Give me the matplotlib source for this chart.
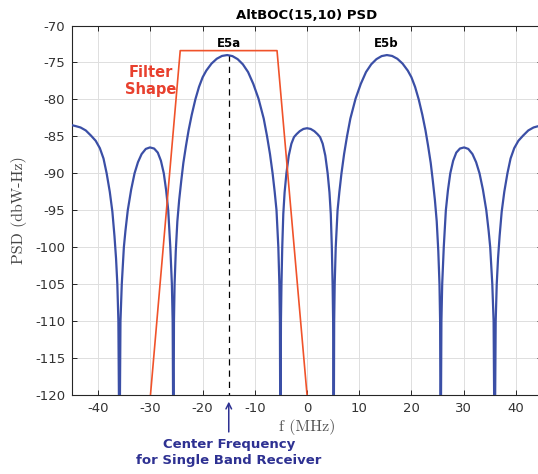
import numpy as np
import matplotlib
matplotlib.use('Agg')
import matplotlib.pyplot as plt

plt.rcParams['axes.unicode_minus'] = False

# PSD curve, f in MHz, PSD in dBW-Hz (nulls go below the axis)
f_neg = [-45.0, -44.4, -43.4, -42.4, -41.4, -40.5, -39.7, -39.0, -38.4, -37.8, -37.3,
         -36.9, -36.6, -36.35, -36.15, -35.95,
         -35.75, -35.5, -35.1, -34.8, -34.35, -33.7, -33.05, -32.4, -31.7, -30.9, -30.1,
         -29.3, -28.6, -28.0, -27.45, -27.0, -26.6, -26.2, -25.9, -25.75, -25.6,
         -25.5, -25.38, -25.15, -24.85, -24.5, -24.1, -23.7, -23.2, -22.7, -22.1, -21.4,
         -20.7, -20.0, -19.3, -18.3, -17.3, -16.3, -15.3, -14.3, -13.3, -12.3, -11.3,
         -10.3, -9.3, -8.3, -7.66, -7.1, -6.6, -6.2, -5.85, -5.5, -5.3, -5.2, -5.1,
         -5.0, -4.9, -4.75, -4.55, -4.3, -3.95, -3.5, -3.0, -2.5, -2.0, -1.4, -0.7]
psd_neg = [-83.5, -83.6, -83.8, -84.2, -84.9, -85.6, -86.6, -88.0, -90.0, -92.5, -95.2,
           -98.5, -101.5, -105.0, -110.0, -130.0,
           -110.0, -105.0, -100.0, -97.8, -95.0, -92.2, -90.0, -88.5, -87.4, -86.7, -86.5,
           -86.65, -87.2, -88.3, -90.0, -92.3, -95.0, -100.0, -105.0, -110.0, -130.0,
           -110.0, -105.0, -100.5, -96.5, -93.6, -91.0, -88.6, -86.3, -84.2, -82.1, -80.0,
           -78.3, -77.0, -76.1, -75.15, -74.5, -74.12, -74.0, -74.14, -74.55, -75.25, -76.3,
           -77.9, -79.9, -82.6, -85.0, -87.4, -90.0, -92.5, -95.0, -100.0, -105.0, -110.0, -130.0,
           -110.0, -105.0, -100.0, -95.5, -92.6, -90.0, -87.6, -86.0, -85.1, -84.7, -84.3, -84.0]
f_pos = [0.0, 0.7, 1.4, 2.0, 2.5, 3.0, 3.5, 3.95, 4.3, 4.55, 4.75, 4.9, 5.0, 5.1,
         5.2, 5.3, 5.5, 5.85, 6.2, 6.6, 7.1, 7.66, 8.3, 9.3, 10.3, 11.3, 12.3, 13.3,
         14.3, 15.3, 16.3, 17.3, 18.3, 19.3, 20.0, 20.7, 21.4, 22.1, 22.7, 23.2, 23.7,
         24.1, 24.5, 24.85, 25.15, 25.38, 25.5, 25.6,
         25.75, 25.9, 26.2, 26.6, 27.0, 27.45, 28.0, 28.6, 29.3, 30.1, 30.9, 31.7, 32.4,
         33.05, 33.7, 34.35, 34.8, 35.1, 35.5, 35.75, 35.95,
         36.15, 36.35, 36.6, 36.9, 37.3, 37.8, 38.4, 39.0, 39.7, 40.5, 41.4, 42.4, 43.4,
         44.4, 45.0]
psd_pos = [-83.9, -84.0, -84.3, -84.7, -85.1, -86.0, -87.6, -90.0, -92.6, -95.5, -100.0, -105.0, -110.0, -130.0,
           -110.0, -105.0, -100.0, -95.0, -92.5, -90.0, -87.4, -85.0, -82.6, -79.9, -77.9, -76.3, -75.25, -74.55,
           -74.14, -74.0, -74.12, -74.5, -75.15, -76.1, -77.0, -78.3, -80.0, -82.1, -84.2, -86.3, -88.6,
           -91.0, -93.6, -96.5, -100.5, -105.0, -110.0, -130.0,
           -110.0, -105.0, -100.0, -95.0, -92.3, -90.0, -88.3, -87.2, -86.65, -86.5, -86.7, -87.4, -88.5,
           -90.0, -92.2, -95.0, -97.8, -100.0, -105.0, -110.0, -130.0,
           -110.0, -105.0, -101.5, -98.5, -95.2, -92.5, -90.0, -88.0, -86.6, -85.6, -84.9, -84.2, -83.8,
           -83.6, -83.5]

# filter shape (trapezoid) corners
filt_f = [-30.0, -24.3, -5.75, 0.0]
filt_psd = [-120.0, -73.4, -73.4, -120.0]

center_f = -15.0
x_ticks = [-40, -30, -20, -10, 0, 10, 20, 30, 40]
y_ticks = [-120, -115, -110, -105, -100, -95, -90, -85, -80, -75, -70]

f_all = np.array(f_neg + f_pos)
psd_all = np.array(psd_neg + psd_pos)

fig = plt.figure(figsize=(5.38, 4.74), dpi=100)
# axes runs slightly past the right edge of the picture (right spine is cut off)
ax = fig.add_axes([0.1342, 0.1667, 0.873, 0.7795])

ax.plot(f_all, psd_all, color='#3b4fa6', lw=1.6, zorder=3)
ax.plot(filt_f, filt_psd, color='#f0522a', lw=1.2, zorder=4)
ax.plot([center_f, center_f], [-74.0, -120.0], color='black', lw=0.9,
        ls=(0, (5, 4)), zorder=2)

ax.set_xlim(-45, 45)
ax.set_ylim(-120, -70)
ax.set_xticks(x_ticks)
ax.set_yticks(y_ticks)
ax.grid(True, color='#dedede', lw=0.7)
ax.set_axisbelow(True)
ax.tick_params(direction='in', length=3.5, width=0.7, colors='#262626',
               labelsize=9.5, top=True, right=True, labelcolor='#333333', pad=5)
for s in ax.spines.values():
    s.set_color('#262626')
    s.set_linewidth(0.8)

ax.set_title('AltBOC(15,10) PSD', fontsize=9.5, fontweight='bold', pad=5)
ax.set_ylabel('PSD (dbW-Hz)', family='cmr10', fontsize=11.5, color='#444444', labelpad=6)
ax.set_xlabel('f (MHz)', family='cmr10', fontsize=11.5, color='#555555', labelpad=3)

ax.text(-15.0, -72.4, 'E5a', ha='center', va='center', fontsize=8.5, fontweight='bold')
ax.text(15.2, -72.4, 'E5b', ha='center', va='center', fontsize=8.5, fontweight='bold')
ax.text(-30.0, -77.5, 'Filter\nShape', ha='center', va='center', fontsize=10.5,
        fontweight='bold', color='#e8402e', linespacing=1.15)

# arrow and caption below the axis
ax.annotate('', xy=(center_f, -120.9), xytext=(center_f, -125.0),
            xycoords='data', textcoords='data', annotation_clip=False,
            arrowprops=dict(arrowstyle='->', color='#2e3192', lw=1.1,
                            shrinkA=0, shrinkB=0))
ax.text(center_f, -127.75, 'Center Frequency\nfor Single Band Receiver', ha='center',
        va='center', fontsize=9.5, fontweight='bold', color='#2e3192',
        linespacing=1.3, clip_on=False)

fig.savefig('out.png', dpi=100)
